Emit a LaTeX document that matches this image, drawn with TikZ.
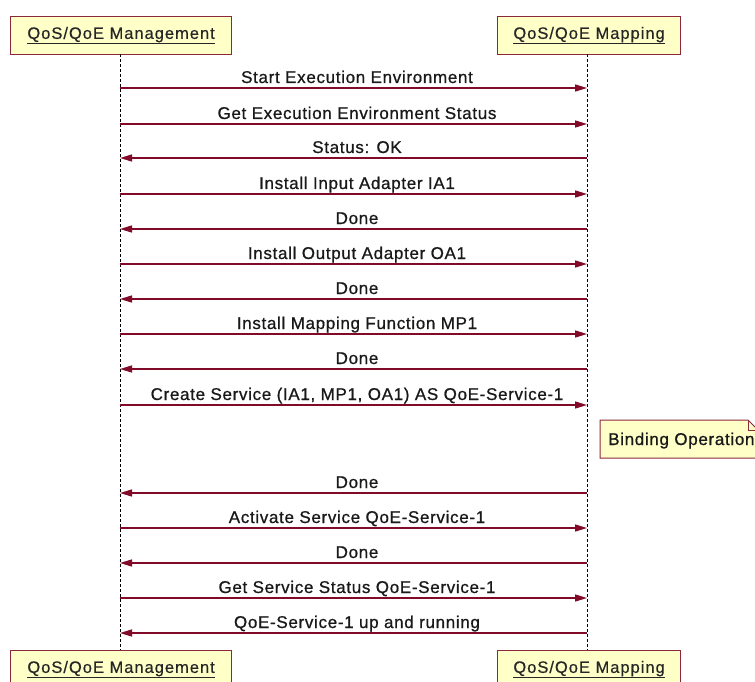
\documentclass[tikz,border=0pt]{standalone}
\usepackage{fontspec}
\setmainfont{Liberation Sans}
\newfontfamily\lblfont[LetterSpace=4,FakeBold=0.8]{Liberation Sans}
\newfontfamily\hdfont[LetterSpace=6,FakeBold=0.5]{Liberation Sans}
\usetikzlibrary{arrows.meta}
\definecolor{msgred}{RGB}{128,10,40}
\definecolor{boxfill}{RGB}{255,255,200}
\definecolor{boxedge}{RGB}{140,40,60}
\tikzset{
  x=1pt,y=-1pt,
  headbox/.style={draw=boxedge,line width=1.2pt,fill=boxfill,minimum height=38pt,inner xsep=2pt,font=\hdfont\fontsize{16.5}{18}\selectfont,text=black!85,anchor=north west},
  lifeline/.style={draw=black,line width=1pt,dash pattern=on 3pt off 2pt},
  msg/.style={draw=msgred,line width=1.4pt,-{Triangle[length=12pt,width=7pt]}},
  lbl/.style={font=\lblfont\fontsize{17}{19}\selectfont,text=black!90,inner sep=0pt},
  notebox/.style={draw=boxedge,line width=1pt,fill=boxfill}
}
\begin{document}
\begin{tikzpicture}
\useasboundingbox (0,0) rectangle (755,682);
% heads
\node[headbox,minimum width=221pt] (mgmt) at (10,16) {\underline{QoS/QoE Management}};
\node[headbox,minimum width=183pt] (map) at (497,16) {\underline{QoS/QoE Mapping}};
\node[headbox,minimum width=221pt] (mgmtB) at (10,650) {\underline{QoS/QoE Management}};
\node[headbox,minimum width=183pt] (mapB) at (497,650) {\underline{QoS/QoE Mapping}};
% lifelines
\coordinate (lt) at (120,54);
\coordinate (lb) at (120,650);
\coordinate (rt) at (587,54);
\coordinate (rb) at (587,650);
\draw[lifeline] (lt) -- (lb);
\draw[lifeline] (rt) -- (rb);
% note with folded corner
\draw[notebox] (600,420) -- (748,420) -- (758,430) -- (758,458) -- (600,458) -- cycle;
\draw[draw=boxedge,line width=1pt] (748,420) -- (748,430) -- (758,430);
\node[lbl,anchor=base west] (note) at (608,445) {Binding Operation};
% messages
\foreach \y/\t/\d [count=\i] in {
  88/Start Execution Environment/r,
  124/Get Execution Environment Status/r,
  158/Status: OK/l,
  194/Install Input Adapter IA1/r,
  229/Done/l,
  264/Install Output Adapter OA1/r,
  299/Done/l,
  334/Install Mapping Function MP1/r,
  369/Done/l,
  405/{Create Service (IA1, MP1, OA1) AS QoE-Service-1}/r,
  493/Done/l,
  528/Activate Service QoE-Service-1/r,
  563/Done/l,
  598/Get Service Status QoE-Service-1/r,
  633/QoE-Service-1 up and running/l}{
  \coordinate (a\i) at (120,\y);
  \coordinate (b\i) at (587,\y);
  \if\d r
    \draw[msg] (a\i) -- (b\i);
  \else
    \draw[msg] (b\i) -- (a\i);
  \fi
  \node[lbl,anchor=base] (t\i) at (357,\y-5) {\t};
}
\end{tikzpicture}
\end{document}
